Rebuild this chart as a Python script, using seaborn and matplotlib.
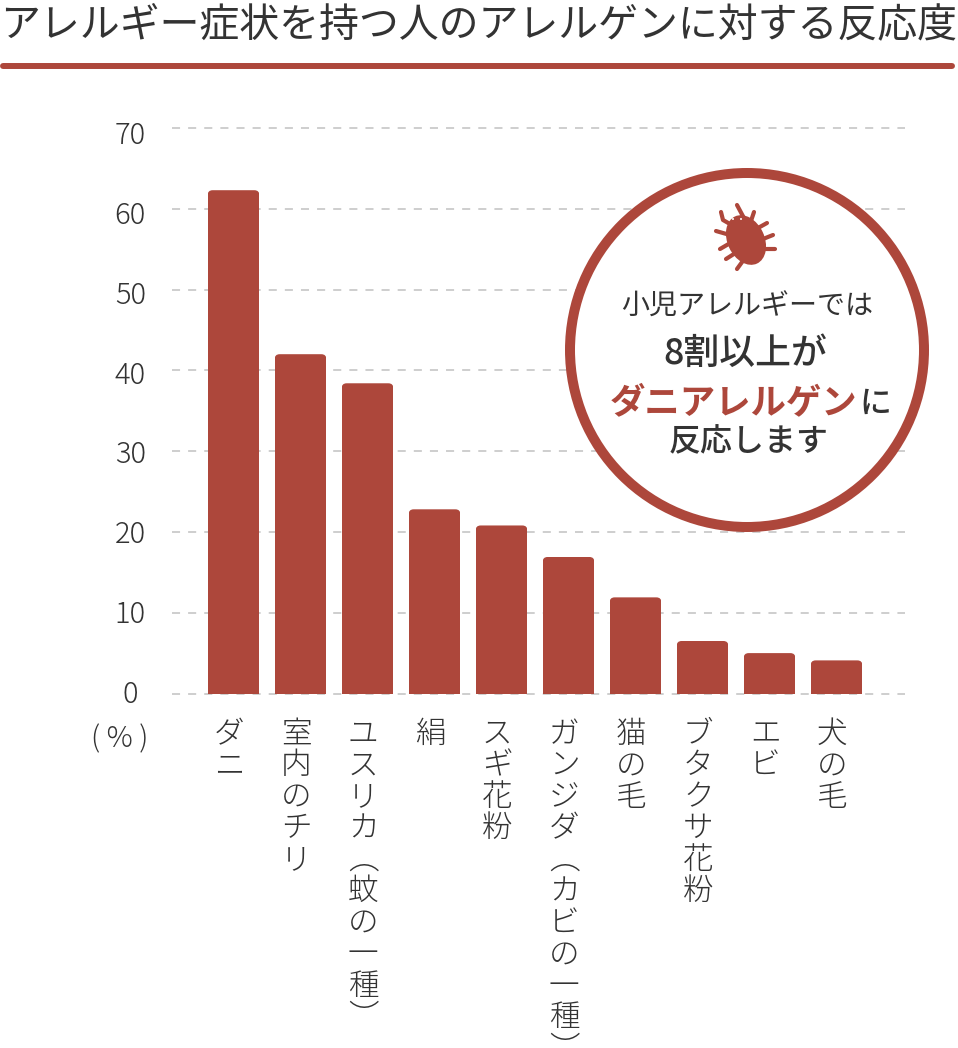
import matplotlib
matplotlib.use("Agg")
import matplotlib.pyplot as plt
from matplotlib.patches import Circle, Ellipse, FancyBboxPatch
from matplotlib.lines import Line2D
from matplotlib.transforms import Affine2D, ScaledTranslation
import pandas as pd
import seaborn as sns

categories = ["ダニ", "室内のチリ", "ユスリカ︵蚊の一種︶", "絹", "スギ花粉",
              "ガンジダ︵カビの一種︶", "猫の毛", "ブタクサ花粉", "エビ", "犬の毛"]
values = [62.3, 42.0, 38.4, 22.8, 20.8, 16.9, 11.9, 6.5, 5.0, 4.1]
yticks = [0, 10, 20, 30, 40, 50, 60, 70]
title = "アレルギー症状を持つ人のアレルゲンに対する反応度"
RED = "#ad473b"
INK = "#333333"

sns.set_theme(style="white")
plt.rcParams["font.family"] = ["Noto Sans CJK JP", "DejaVu Sans"]

W, H = 958, 1048
fig = plt.figure(figsize=(W / 100, H / 100), dpi=100)
px = Affine2D().scale(1, -1).translate(0, H)  # pixel space, y downwards
L, R, T, B = 172, 905, 128, 693.5
ax = fig.add_axes([L / W, 1 - B / H, (R - L) / W, (B - T) / H])

df = pd.DataFrame({"item": categories, "pct": values})
sns.barplot(data=df, x="item", y="pct", color=RED, saturation=1, width=0.772, ax=ax, zorder=3)
ax.set_xlim(-0.918, 10.022)
ax.set_ylim(0, 70)
ax.set_xlabel("")
ax.set_ylabel("")
sns.despine(ax=ax, left=True, bottom=True)

ax.set_axisbelow(True)
ax.set_yticks(yticks)
ax.yaxis.grid(True, color="#cfcfcf", lw=1.44, ls=(0, (4.03, 4.03)))
for gl in ax.get_ygridlines():
    gl.set_clip_on(False)
ax.xaxis.grid(False)
ax.tick_params(axis="both", length=0)

# y labels
ax.set_yticklabels([str(v) for v in yticks], fontsize=21, color=INK, fontweight="light", ha="center")
ax.tick_params(axis="y", pad=30)
for lab, v in zip(ax.get_yticklabels(), yticks):
    lab.set_transform(lab.get_transform() + ScaledTranslation(0, -(v / 70 * 4 - 2 * (1 - v / 70)) / 100, fig.dpi_scale_trans))

# vertical category labels
ax.set_xticks(range(len(categories)))
ax.set_xticklabels(["\n".join(c) for c in categories], fontsize=22, color=INK, fontweight="light",
                   linespacing=0.98, rotation=0, ha="center", va="top")
ax.tick_params(axis="x", pad=17.5)
for lab in ax.get_xticklabels():
    lab.set_transform(lab.get_transform() + ScaledTranslation(-4.3 / 100, 0, fig.dpi_scale_trans))

fig.text(120, 739, "( % )", transform=px, fontsize=21, color=INK, fontweight="light", ha="center", va="center")

# rounded bar tops
for bar in ax.patches:
    x0, y0 = ax.transData.transform((bar.get_x(), bar.get_y()))
    x1, y1 = ax.transData.transform((bar.get_x() + bar.get_width(), bar.get_height()))
    clip = FancyBboxPatch((x0 + 5, y0), x1 - x0 - 10, y1 - y0 - 5,
                          boxstyle="round,pad=5,rounding_size=5")
    clip.set_transform(Affine2D())
    bar.set_clip_path(clip)
    bar.set_linewidth(0)

# title and rule
fig.text(479, 25, title, transform=px, fontsize=28.75, color=INK, ha="center", va="center")
fig.add_artist(Line2D([3, 952], [66, 66], transform=px, color=RED, lw=4.3, solid_capstyle="round"))

# callout
fig.add_artist(Circle((747, 350), 177, transform=px, fc="white", ec=RED, lw=7.2, zorder=5))
fig.add_artist(Ellipse((746, 240), 37, 52, angle=-25, transform=px, fc=RED, ec="none", zorder=6))
legs = [[(721, 212), (723, 220), (730, 224)], [(737, 205), (745, 220)], [(754, 212), (750, 224)],
        [(767, 223), (758, 228)], [(773, 235), (763, 239)], [(775, 249), (764, 249)],
        [(716, 231), (730, 235)], [(720, 249), (732, 242)], [(726, 259), (737, 252)], [(737, 269), (745, 258)]]
for leg in legs:
    xs, ys = zip(*leg)
    fig.add_artist(Line2D(xs, ys, transform=px, color=RED, lw=3, solid_capstyle="round", zorder=6))
for e in [(733, 219), (741, 219)]:
    fig.add_artist(Circle(e, 1, transform=px, fc="white", ec="none", zorder=7))

def note(x, y, s, size, weight="regular", color=INK):
    fig.text(x, y, s, transform=px, fontsize=size, fontweight=weight, color=color,
             ha="center", va="center", zorder=8)

note(747, 307, "小児アレルギーでは", 20.2, "regular")
note(745.5, 354, "8割以上が", 25.8, "medium")
note(734, 403, "ダニアレルゲン", 25.5, "bold", RED)
note(875, 404, "に", 23, "medium")
note(749, 442, "反応します", 23, "medium")

fig.savefig("out.png", dpi=100)
